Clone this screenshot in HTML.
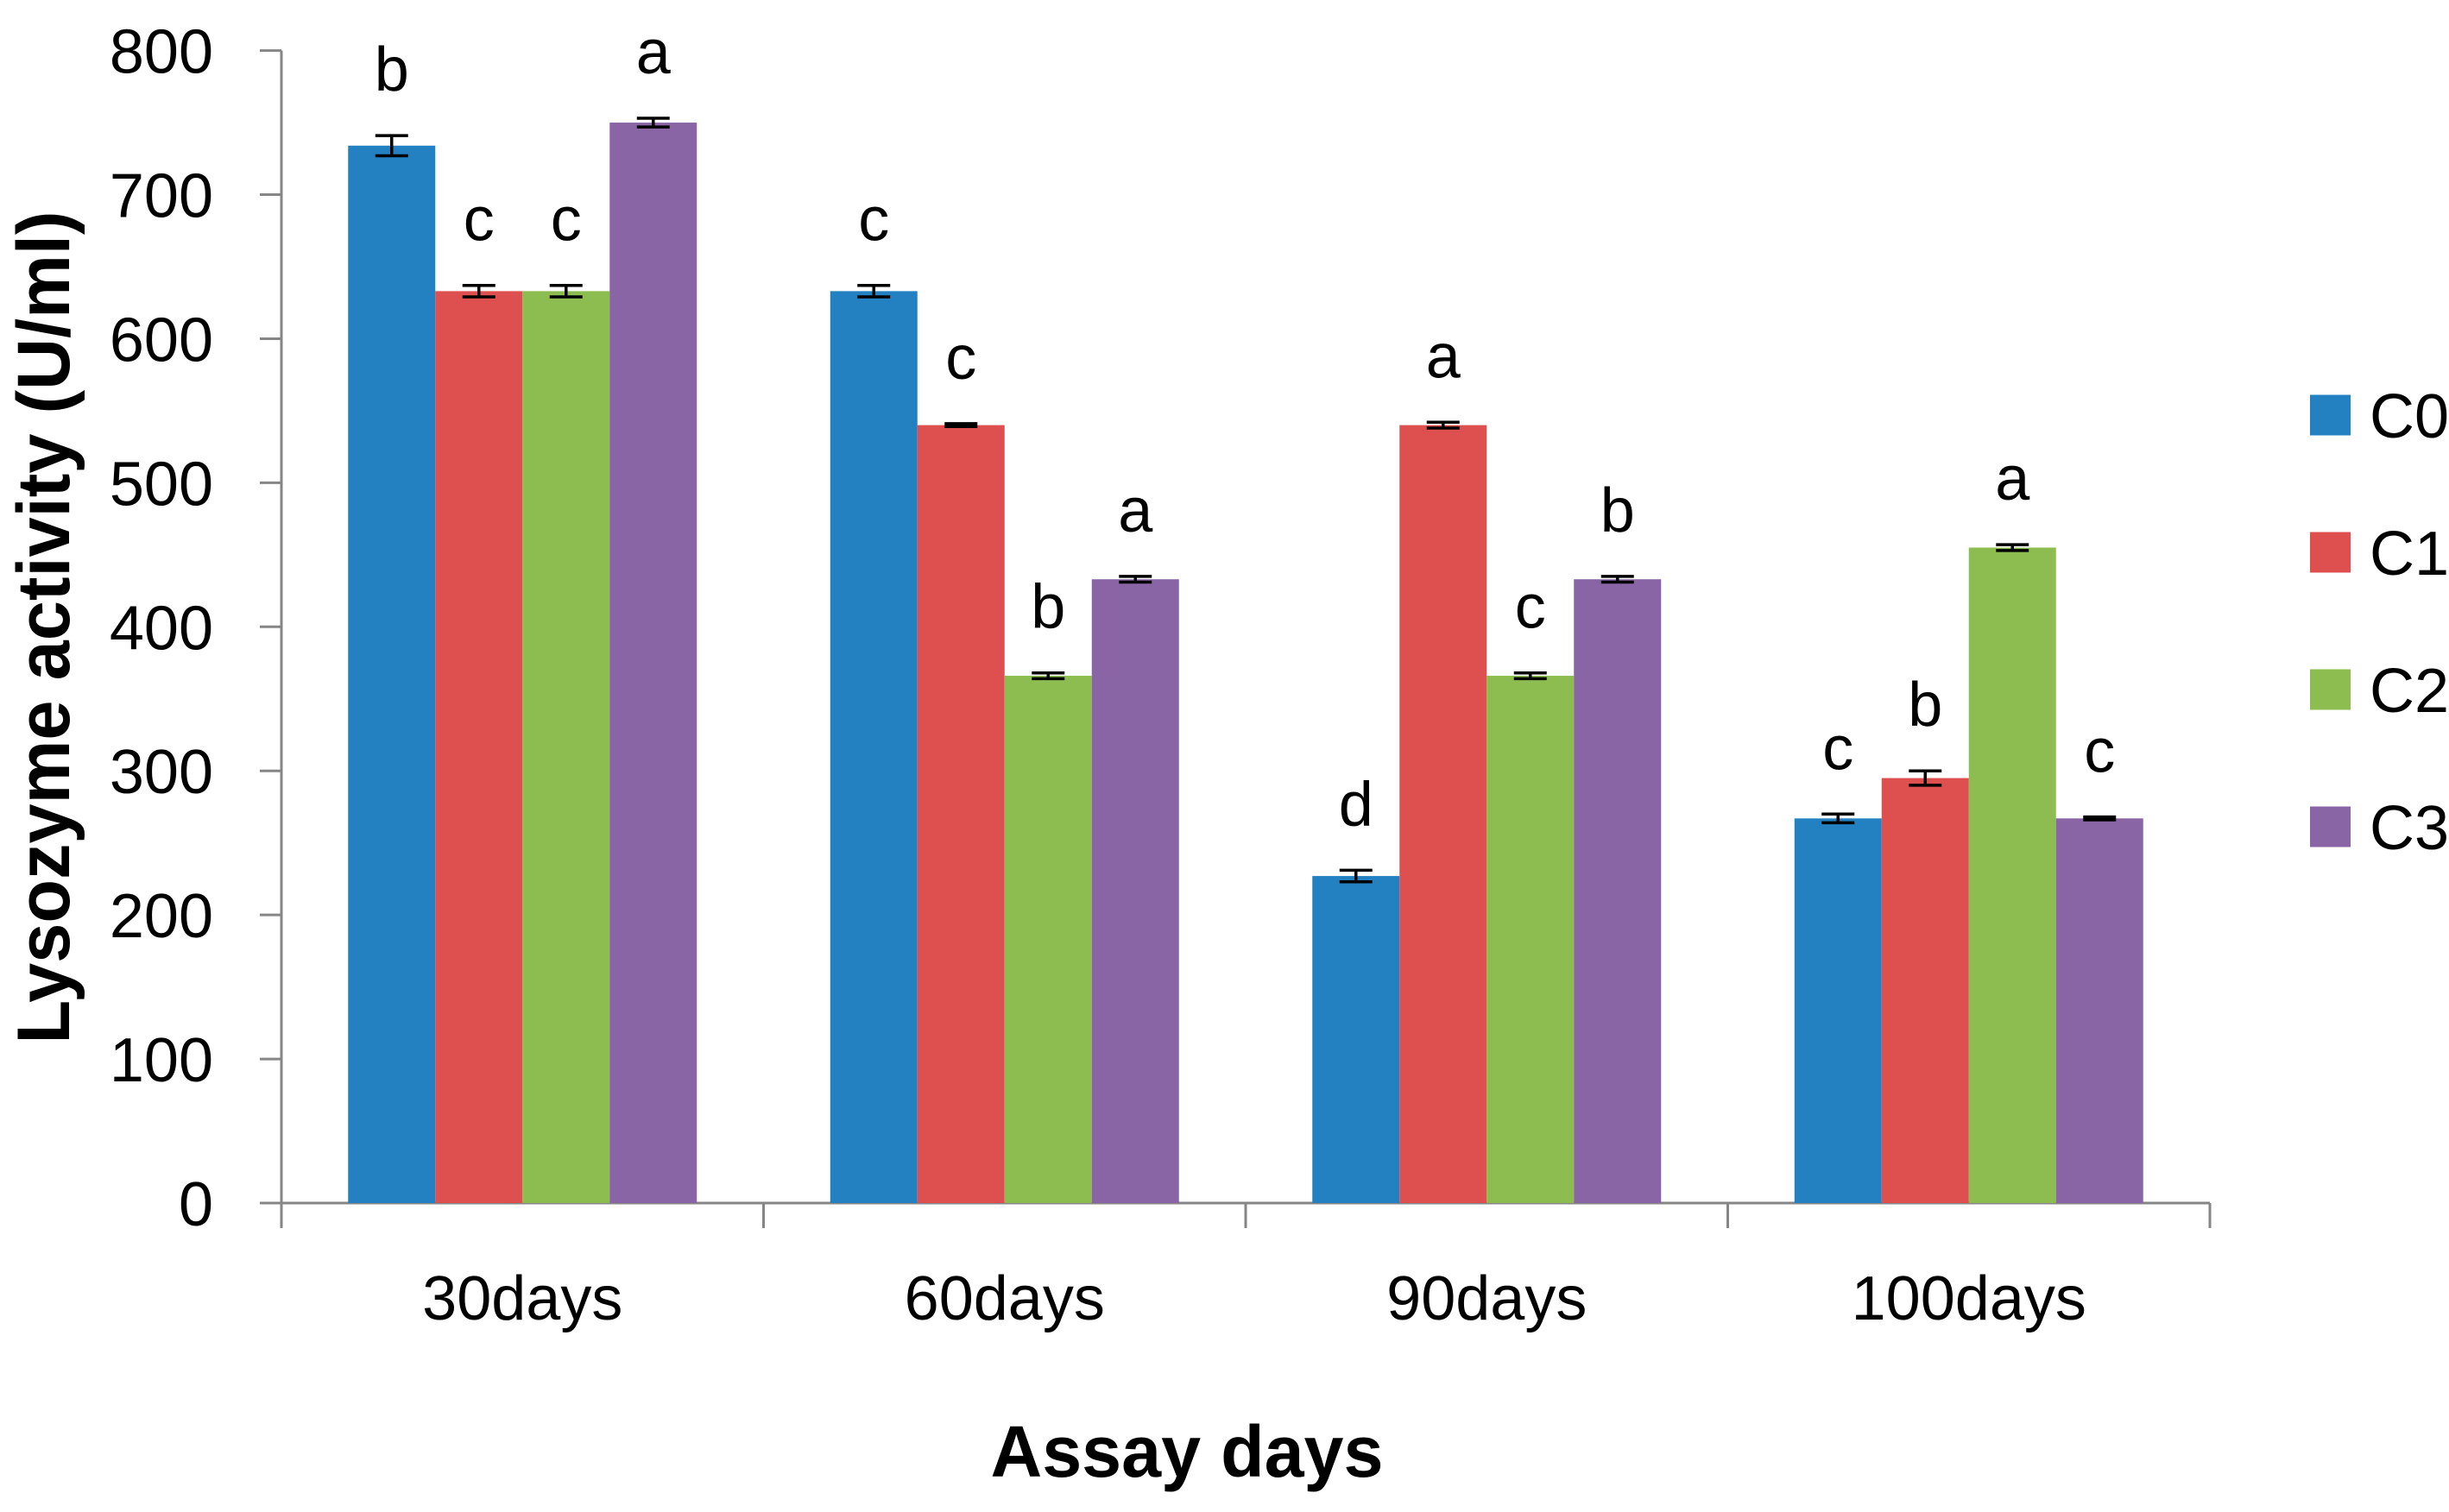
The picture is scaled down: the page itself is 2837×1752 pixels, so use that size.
<!DOCTYPE html>
<html><head><meta charset="utf-8"><style>html,body{margin:0;padding:0;background:#fff}svg{display:block}</style></head>
<body>
<svg id="chart" width="2837" height="1752" viewBox="0 0 2837 1752" xmlns="http://www.w3.org/2000/svg" font-family="Liberation Sans, sans-serif">
<g id="axes"></g><g id="bars"></g><g id="legend"></g>
<text x="1375" y="1711" font-size="84" font-weight="bold" text-anchor="middle" textLength="455" lengthAdjust="spacingAndGlyphs">Assay days</text>
<text transform="translate(80,727) rotate(-90)" font-size="86" font-weight="bold" text-anchor="middle" textLength="965" lengthAdjust="spacingAndGlyphs">Lysozyme activity (U/ml)</text>
</svg>
<script>
const categories = ["30days","60days","90days","100days"];
const seriesNames = ["C0","C1","C2","C3"];
const c0 = [734, 633, 227, 267];
const c1 = [633, 540, 540, 295];
const c2 = [633, 366, 366, 455];
const c3 = [750, 433, 433, 267];
const err0 = [7, 4, 4, 3];
const err1 = [4, 1, 2, 5];
const err2 = [4, 2, 2, 2];
const err3 = [3, 2, 2, 1];
const let0 = ["b","c","d","c"];
const let1 = ["c","c","a","b"];
const let2 = ["c","b","c","a"];
const let3 = ["a","a","b","c"];
const yTicks = [0,100,200,300,400,500,600,700,800];
const colors = ["#2481C1","#DE504F","#8DBD50","#8A65A5"];
const values=[c0,c1,c2,c3], errs=[err0,err1,err2,err3], lets=[let0,let1,let2,let3];
const NS="http://www.w3.org/2000/svg";
const X0=326, X1=2560, Y0=1394, YTOP=58.6, YMAX=800;
const catW=(X1-X0)/categories.length, barW=101;
function y(v){return Y0-(v/YMAX)*(Y0-YTOP);}
function xCat(i){return X0+catW*(i+0.5);}
function mk(tag,attrs,parent){const e=document.createElementNS(NS,tag);for(const k in attrs)e.setAttribute(k,attrs[k]);parent.appendChild(e);return e;}
const axes=document.getElementById('axes'), bars=document.getElementById('bars'), legend=document.getElementById('legend');
let a=mk('line',{x1:X0,y1:YTOP,x2:X0,y2:Y0,stroke:'#868686','stroke-width':3},axes);


a=mk('line',{x1:X0,y1:Y0,x2:X1,y2:Y0,stroke:'#868686','stroke-width':3},axes);


yTicks.forEach(t=>{
  const tk=mk('line',{x1:X0-25,y1:y(t),x2:X0,y2:y(t),stroke:'#868686','stroke-width':3},axes);
  
  
  const lb=mk('text',{x:247,y:y(t)+26,'font-size':72,'text-anchor':'end'},axes);
  lb.textContent=t;
  
  
});
for(let i=0;i<=categories.length;i++){
  const tk=mk('line',{x1:X0+catW*i,y1:Y0,x2:X0+catW*i,y2:1423,stroke:'#868686','stroke-width':3},axes);
  
  
}
categories.forEach((c,i)=>{
  const lb=mk('text',{x:xCat(i),y:1529,'font-size':72,'text-anchor':'middle'},axes);
  lb.textContent=c;
  
  
  values.forEach((ser,s)=>{
    const bx=xCat(i)-2*barW+s*barW, v=ser[i], e=errs[s][i];
    const r=mk('rect',{x:bx,y:y(v),width:barW,height:Y0-y(v),fill:colors[s]},bars);
    
    
    const cx=bx+barW/2;
    const g=mk('path',{d:`M${cx},${y(v+e)}V${y(v-e)}M${cx-19},${y(v+e)}H${cx+19}M${cx-19},${y(v-e)}H${cx+19}`,stroke:'#000','stroke-width':3.5,fill:'none'},bars);
    
    
    const t=mk('text',{x:cx,y:y(v+e)-52,'font-size':72,'text-anchor':'middle'},bars);
    t.textContent=lets[s][i];
    
    
  });
});
seriesNames.forEach((n,s)=>{
  const cy=481+s*159;
  const sq=mk('rect',{x:2676,y:cy-23.5,width:47,height:47,fill:colors[s]},legend);
  
  
  const t=mk('text',{x:2745,y:cy+26,'font-size':72},legend);
  t.textContent=n;
  
  
});
</script>
</body></html>
